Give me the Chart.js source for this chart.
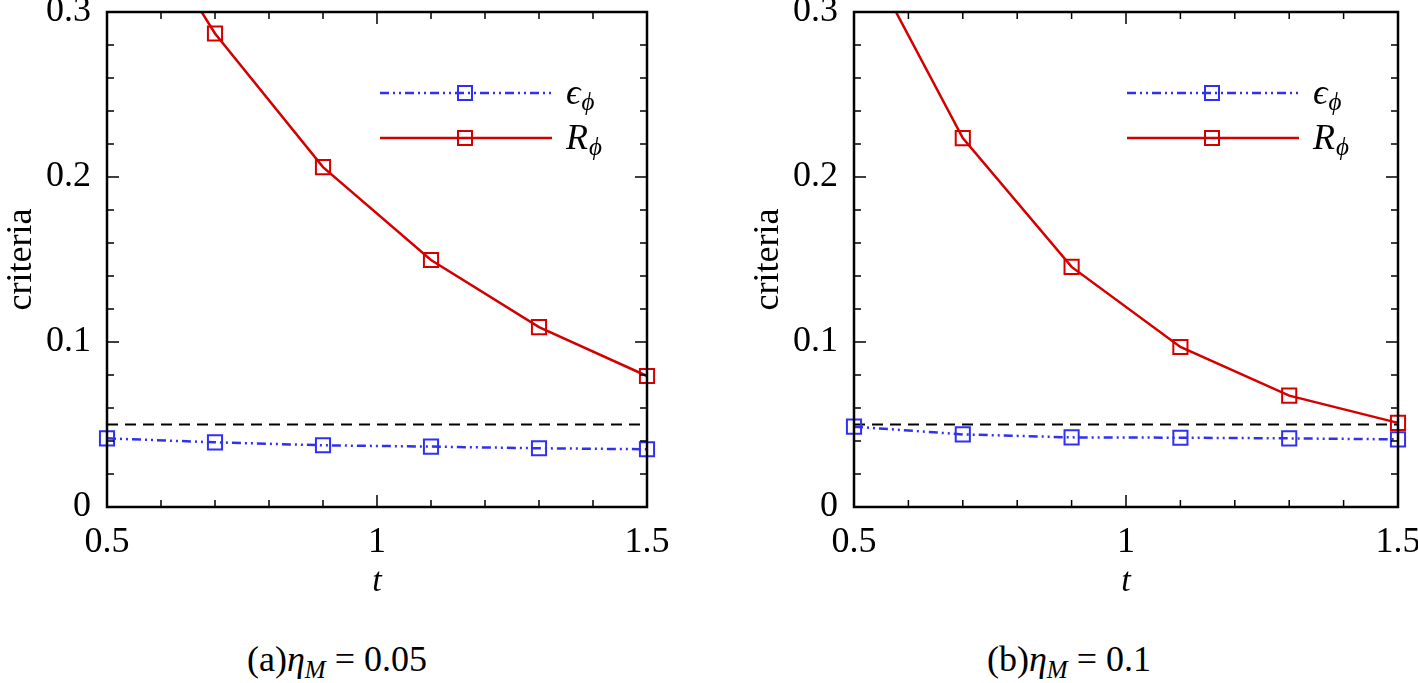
<!DOCTYPE html>
<html>
<head>
<meta charset="utf-8">
<script src="https://cdn.jsdelivr.net/npm/chart.js@4.4.1/dist/chart.umd.min.js"></script>
<style>
  body { margin: 0; width: 1418px; height: 683px; overflow: hidden; background: #fff; position: relative;
         font-family: "Liberation Serif", serif; }
  .panel { position: absolute; top: -30px; width: 700px; height: 640px; }
  .cap { position: absolute; top: 638px; font-size: 36px; transform: translateX(-50%); white-space: nowrap; }
  .cap sub { font-size: 25px; vertical-align: -7px; }
</style>
</head>
<body>
<div class="panel" style="left:0"><canvas id="chartA" width="700" height="640"></canvas></div>
<div class="panel" style="left:747px"><canvas id="chartB" width="700" height="640"></canvas></div>
<div class="cap" style="left:337px">(a)<i>η</i><sub><i>M</i></sub>&nbsp;=&nbsp;0.05</div>
<div class="cap" style="left:1069px">(b)<i>η</i><sub><i>M</i></sub>&nbsp;=&nbsp;0.1</div>
<script>
// valeurs
const tValues = [0.5, 0.7, 0.9, 1.1, 1.3, 1.5];
const epsA = [0.0416, 0.0392, 0.0374, 0.0366, 0.0356, 0.035];
const resA = [0.392, 0.287, 0.206, 0.1497, 0.109, 0.0794];
const epsB = [0.0487, 0.044, 0.0422, 0.042, 0.0416, 0.041];
const resB = [0.348, 0.2236, 0.1455, 0.097, 0.0675, 0.051];
const threshold = 0.05;
const xTicks = [0.5, 1, 1.5];
const yTicks = [0, 0.1, 0.2, 0.3];

const blue = 'rgb(48, 48, 245)';
const red = 'rgb(212, 0, 0)';
const serif = '"Liberation Serif", serif';

// cadre + graduations vers l'intérieur + légende dessinée dans la zone
const frameTicks = {
  id: 'frameTicks',
  afterDatasetsDraw(chart) {
    const { ctx, chartArea: a, scales: { x, y } } = chart;
    ctx.save();
    ctx.strokeStyle = '#000';
    ctx.lineWidth = 1.5;
    ctx.beginPath();
    for (let i = 0; i <= 10; i++) {
      const px = x.getPixelForValue(0.5 + i * 0.1);
      const len = i % 5 === 0 ? 12 : 7;
      ctx.moveTo(px, a.bottom); ctx.lineTo(px, a.bottom - len);
      ctx.moveTo(px, a.top); ctx.lineTo(px, a.top + len);
    }
    for (let i = 0; i <= 15; i++) {
      const py = y.getPixelForValue(i * 0.02);
      const len = i % 5 === 0 ? 12 : 7;
      ctx.moveTo(a.left, py); ctx.lineTo(a.left + len, py);
      ctx.moveTo(a.right, py); ctx.lineTo(a.right - len, py);
    }
    ctx.stroke();
    ctx.lineWidth = 2.5;
    ctx.strokeRect(a.left, a.top, a.right - a.left, a.bottom - a.top);

    // légende
    const items = chart.data.datasets.filter(d => d.legendSym);
    items.forEach((d, k) => {
      const yy = a.top + 81 + k * 45;
      const x0 = a.left + 273, x1 = a.left + 445, xm = a.left + 358;
      ctx.strokeStyle = d.borderColor;
      ctx.lineWidth = d.borderWidth;
      ctx.setLineDash(d.borderDash || []);
      ctx.beginPath(); ctx.moveTo(x0, yy); ctx.lineTo(x1, yy); ctx.stroke();
      ctx.setLineDash([]);
      ctx.lineWidth = 2;
      ctx.strokeRect(xm - 7, yy - 7, 14, 14);
      ctx.fillStyle = '#000';
      ctx.textBaseline = 'alphabetic';
      ctx.font = 'italic 36px ' + serif;
      const tx = a.left + 459;
      ctx.fillText(d.legendSym, tx, yy + 11);
      const w = ctx.measureText(d.legendSym).width;
      ctx.font = 'italic 25px ' + serif;
      ctx.fillText('\u03D5', tx + w + 1, yy + 17);
    });
    ctx.restore();
  }
};

function makeChart(id, eps, res, padRight) {
  const pts = arr => arr.map((v, i) => ({ x: tValues[i], y: v }));
  const markClip = { left: 12, right: 12, top: 0, bottom: 12 };
  return new Chart(document.getElementById(id), {
    type: 'line',
    data: {
      datasets: [
        {
          data: tValues.map(t => ({ x: t, y: threshold })),
          borderColor: '#000', borderWidth: 2, borderDash: [11, 7],
          pointRadius: 0, order: 3
        },
        {
          legendSym: '\u03F5',
          data: pts(eps),
          borderColor: blue, borderWidth: 2.5, borderDash: [9, 4, 2, 4, 2, 4],
          pointStyle: 'rect', pointRadius: 10, pointBorderWidth: 2,
          pointBackgroundColor: 'transparent', pointBorderColor: blue,
          clip: markClip, order: 2
        },
        {
          legendSym: 'R',
          data: pts(res),
          borderColor: red, borderWidth: 2.5,
          pointStyle: 'rect', pointRadius: 10, pointBorderWidth: 2,
          pointBackgroundColor: 'transparent', pointBorderColor: red,
          clip: markClip, order: 1
        }
      ]
    },
    options: {
      responsive: false,
      animation: false,
      layout: { padding: { left: 0, right: padRight, top: 42, bottom: 0 } },
      plugins: { legend: { display: false }, tooltip: { enabled: false } },
      scales: {
        x: {
          type: 'linear', min: 0.5, max: 1.5,
          afterBuildTicks: s => { s.ticks = xTicks.map(v => ({ value: v })); },
          afterFit: s => { s.height = 103; },
          grid: { display: false, drawTicks: false },
          border: { display: false },
          ticks: { color: '#000', padding: 14, maxRotation: 0, font: { family: serif, size: 36 },
                   callback: v => String(v) },
          title: { display: true, text: 't', color: '#000', padding: { top: 0, bottom: 8 },
                   font: { family: serif, size: 34, style: 'italic' } }
        },
        y: {
          min: 0, max: 0.3,
          afterBuildTicks: s => { s.ticks = yTicks.map(v => ({ value: v })); },
          afterFit: s => { s.width = 107; },
          grid: { display: false, drawTicks: false },
          border: { display: false },
          ticks: { color: '#000', padding: 16, font: { family: serif, size: 36 },
                   callback: v => String(Math.round(v * 10) / 10) },
          title: { display: true, text: 'criteria', color: '#000', padding: 0,
                   font: { family: serif, size: 36 } }
        }
      }
    },
    plugins: [frameTicks]
  });
}

Promise.all([
  document.fonts.load('36px "Liberation Serif"'),
  document.fonts.load('italic 36px "Liberation Serif"')
]).catch(() => {}).then(() => {
  makeChart('chartA', epsA, resA, 53);
  makeChart('chartB', epsB, resB, 49);
});
</script>
</body>
</html>
